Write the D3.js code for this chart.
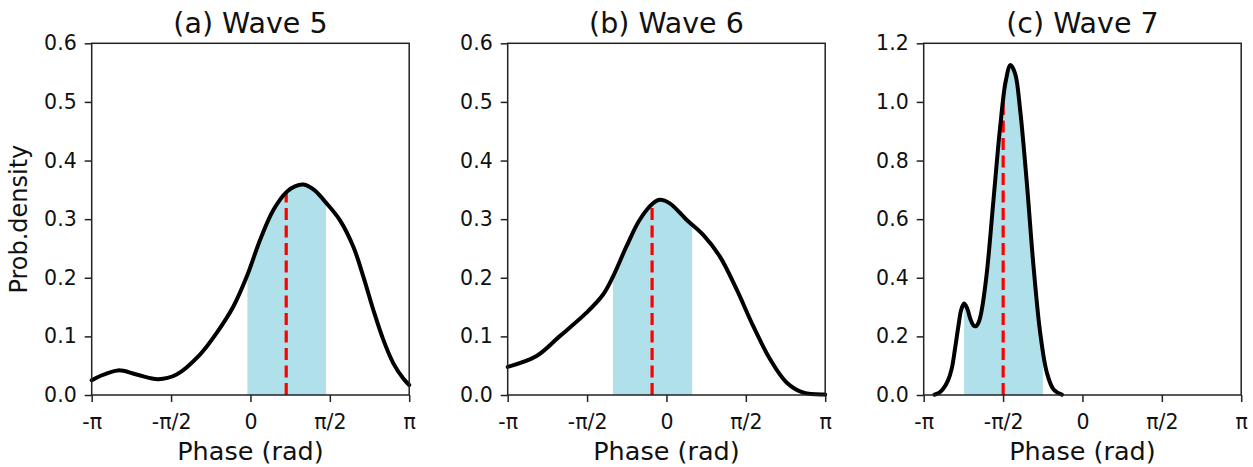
<!DOCTYPE html>
<html>
<head>
<meta charset="utf-8">
<script src="https://cdn.jsdelivr.net/npm/d3@7"></script>
<style>
  html, body { margin: 0; padding: 0; background: #fff; }
  svg { display: block; font-family: "DejaVu Sans", sans-serif; }
</style>
</head>
<body>
<script>
// ---------- data ----------
const titles = ["(a) Wave 5", "(b) Wave 6", "(c) Wave 7"];
const xTickValues = [-Math.PI, -Math.PI / 2, 0, Math.PI / 2, Math.PI];
const xTickLabels = ["-π", "-π/2", "0", "π/2", "π"];
const yTicksAB = [0, 0.1, 0.2, 0.3, 0.4, 0.5, 0.6];
const yTicksC = [0, 0.2, 0.4, 0.6, 0.8, 1.0, 1.2];

const wave5Phase = [-3.1416, -2.983, -2.619, -2.255, -1.825, -1.462, -0.999, -0.668, -0.338, -0.073, 0.192, 0.456, 0.721, 0.88, 1.046, 1.26, 1.475, 1.772, 2.036, 2.234, 2.432, 2.630, 2.828, 3.025, 3.1416];
const wave5Density = [0.025, 0.032, 0.042, 0.035, 0.027, 0.035, 0.069, 0.106, 0.151, 0.202, 0.265, 0.316, 0.347, 0.356, 0.359, 0.350, 0.330, 0.298, 0.253, 0.202, 0.145, 0.094, 0.054, 0.028, 0.017];
const wave5Interval = [-0.06, 1.495];
const wave5Median = 0.708;

const wave6Phase = [-3.1416, -2.579, -2.116, -1.587, -1.257, -1.058, -0.794, -0.529, -0.265, -0.132, 0.066, 0.397, 0.728, 1.058, 1.389, 1.720, 2.051, 2.382, 2.712, 3.1416];
const wave6Density = [0.048, 0.066, 0.100, 0.140, 0.171, 0.202, 0.253, 0.299, 0.327, 0.333, 0.327, 0.299, 0.273, 0.236, 0.180, 0.117, 0.061, 0.021, 0.004, 0.001];
const wave6Interval = [-1.058, 0.509];
const wave6Median = -0.284;

const wave7Phase = [-2.93, -2.83, -2.752, -2.66, -2.587, -2.52, -2.455, -2.40, -2.342, -2.28, -2.223, -2.16, -2.104, -2.05, -1.992, -1.893, -1.761, -1.629, -1.516, -1.424, -1.331, -1.232, -1.100, -0.968, -0.836, -0.704, -0.571, -0.406];
const wave7Density = [0.001, 0.008, 0.022, 0.050, 0.090, 0.160, 0.235, 0.290, 0.312, 0.295, 0.262, 0.238, 0.235, 0.250, 0.291, 0.416, 0.665, 0.914, 1.073, 1.126, 1.096, 0.971, 0.722, 0.438, 0.212, 0.076, 0.019, 0.001];
const wave7Interval = [-2.342, -0.783];
const wave7Median = -1.569;

const yMaxes = [0.6, 0.6, 1.2];

// ---------- layout ----------
const W = 1253, H = 467;
const left0 = 91.7, panelStep = 416, panelW = 317.5;
const plotTop = 43.3, plotBottom = 395;

const panels = [
  { title: titles[0], phase: wave5Phase, dens: wave5Density, interval: wave5Interval, median: wave5Median, yMax: yMaxes[0], yTicks: yTicksAB },
  { title: titles[1], phase: wave6Phase, dens: wave6Density, interval: wave6Interval, median: wave6Median, yMax: yMaxes[1], yTicks: yTicksAB },
  { title: titles[2], phase: wave7Phase, dens: wave7Density, interval: wave7Interval, median: wave7Median, yMax: yMaxes[2], yTicks: yTicksC }
];

const svg = d3.select("body").append("svg").attr("width", W).attr("height", H);

function interp(xs, ys, xv) {
  for (let i = 0; i < xs.length - 1; i++) {
    if (xv >= xs[i] && xv <= xs[i + 1]) {
      const t = (xv - xs[i]) / (xs[i + 1] - xs[i]);
      return ys[i] + t * (ys[i + 1] - ys[i]);
    }
  }
  return 0;
}

panels.forEach((p, i) => {
  const x0 = left0 + i * panelStep;
  const g = svg.append("g").attr("transform", `translate(${x0},0)`);
  const x = d3.scaleLinear().domain([-Math.PI, Math.PI]).range([0, panelW]);
  const y = d3.scaleLinear().domain([0, p.yMax]).range([plotBottom, plotTop]);
  const pts = p.phase.map((ph, k) => [ph, p.dens[k]]);

  const clipId = "clip" + i;
  g.append("clipPath").attr("id", clipId)
    .append("rect")
    .attr("x", x(p.interval[0])).attr("y", plotTop)
    .attr("width", x(p.interval[1]) - x(p.interval[0]))
    .attr("height", plotBottom - plotTop);

  const area = d3.area().x(d => x(d[0])).y0(y(0)).y1(d => y(d[1])).curve(d3.curveCatmullRom.alpha(0.5));
  g.append("path").datum(pts).attr("d", area)
    .attr("fill", "#b0e0e9").attr("clip-path", `url(#${clipId})`);

  // median line
  const medTop = interp(p.phase, p.dens, p.median);
  g.append("line")
    .attr("x1", x(p.median)).attr("x2", x(p.median))
    .attr("y1", y(0)).attr("y2", y(medTop))
    .attr("stroke", "#ff0000").attr("stroke-width", 3.2)
    .attr("stroke-dasharray", "12,5.5");

  // axes
  const yAxis = d3.axisLeft(y).tickValues(p.yTicks).tickFormat(d3.format(".1f"))
    .tickSize(7).tickSizeOuter(0).tickPadding(8);
  const ya = g.append("g").call(yAxis);
  const xAxis = d3.axisBottom(x).tickValues(xTickValues).tickFormat((d, k) => xTickLabels[k])
    .tickSize(7).tickSizeOuter(0).tickPadding(12);
  const xa = g.append("g").attr("transform", `translate(0,${plotBottom})`).call(xAxis);
  [ya, xa].forEach(a => {
    a.selectAll("text").attr("font-size", 20.5).attr("fill", "#111").attr("font-family", "DejaVu Sans");
    a.selectAll("line").attr("stroke", "#222").attr("stroke-width", 1.5);
    a.select(".domain").remove();
  });

  // density curve
  const line = d3.line().x(d => x(d[0])).y(d => y(d[1])).curve(d3.curveCatmullRom.alpha(0.5));
  g.append("path").datum(pts).attr("d", line)
    .attr("fill", "none").attr("stroke", "#000").attr("stroke-width", 4)
    .attr("stroke-linejoin", "round").attr("stroke-linecap", "round");

  // frame
  g.append("rect").attr("x", 0).attr("y", plotTop).attr("width", panelW).attr("height", plotBottom - plotTop)
    .attr("fill", "none").attr("stroke", "#222").attr("stroke-width", 1.5);

  // title
  g.append("text").attr("x", panelW / 2).attr("y", 33)
    .attr("text-anchor", "middle").attr("font-size", 28.5).attr("fill", "#111")
    .text(p.title);

  // x label
  g.append("text").attr("x", panelW / 2).attr("y", 460)
    .attr("text-anchor", "middle").attr("font-size", 25.5).attr("fill", "#111")
    .text("Phase (rad)");

  if (i === 0) {
    g.append("text")
      .attr("transform", `translate(${-65},${(plotTop + plotBottom) / 2}) rotate(-90)`)
      .attr("text-anchor", "middle").attr("font-size", 24).attr("fill", "#111")
      .text("Prob.density");
  }
});
</script>
</body>
</html>
